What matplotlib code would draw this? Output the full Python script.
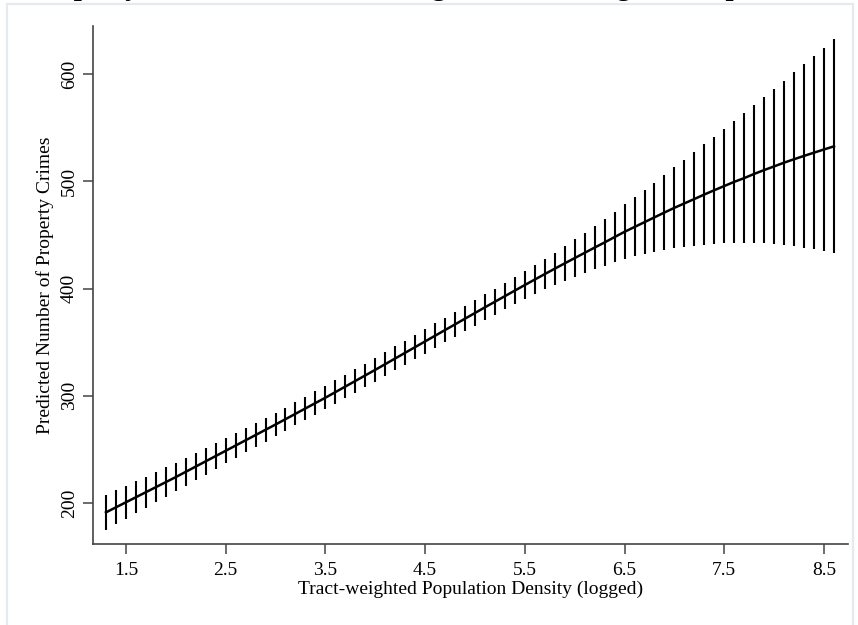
import numpy as np
import matplotlib
matplotlib.use("Agg")
import matplotlib.pyplot as plt
from matplotlib.patches import Rectangle

# log population density grid (0.1 steps)
density = [1.3, 1.4, 1.5, 1.6, 1.7, 1.8, 1.9, 2.0, 2.1, 2.2, 2.3, 2.4, 2.5, 2.6, 2.7,
           2.8, 2.9, 3.0, 3.1, 3.2, 3.3, 3.4, 3.5, 3.6, 3.7, 3.8, 3.9, 4.0, 4.1, 4.2,
           4.3, 4.4, 4.5, 4.6, 4.7, 4.8, 4.9, 5.0, 5.1, 5.2, 5.3, 5.4, 5.5, 5.6, 5.7,
           5.8, 5.9, 6.0, 6.1, 6.2, 6.3, 6.4, 6.5, 6.6, 6.7, 6.8, 6.9, 7.0, 7.1, 7.2,
           7.3, 7.4, 7.5, 7.6, 7.7, 7.8, 7.9, 8.0, 8.1, 8.2, 8.3, 8.4, 8.5, 8.6]

# predicted number of property crimes
predicted = [191.3, 196.0, 200.7, 205.4, 210.1, 214.8, 219.5, 224.2, 229.1, 234.0,
             238.9, 243.8, 248.7, 253.6, 258.5, 263.4, 268.3, 273.2, 278.2, 283.2,
             288.2, 293.2, 298.2, 303.4, 308.6, 313.8, 319.0, 324.2, 329.5, 334.8,
             340.1, 345.4, 350.7, 356.0, 361.3, 366.6, 371.9, 377.2, 382.5, 387.7,
             392.9, 398.1, 403.3, 408.4, 413.5, 418.5, 423.5, 428.4, 433.3, 438.2,
             443.0, 448.0, 452.9, 457.4, 461.9, 466.4, 470.9, 475.3, 479.4, 483.5,
             487.7, 491.7, 495.6, 499.5, 503.0, 506.9, 510.5, 513.9, 517.4, 520.6,
             523.7, 526.7, 529.7, 532.6]

# half width of the 95% confidence interval
ci_half = [16.5, 16.0, 15.5, 15.0, 14.6, 14.2, 13.8, 13.4, 13.0, 12.6,
           12.3, 12.0, 11.7, 11.5, 11.3, 11.1, 11.0, 10.9, 10.8, 10.8,
           10.8, 10.8, 10.9, 10.9, 11.0, 11.0, 11.1, 11.1, 11.2, 11.2,
           11.3, 11.3, 11.4, 11.5, 11.6, 11.7, 11.8, 11.9, 12.0, 12.1,
           12.4, 12.7, 13.1, 13.5, 14.3, 15.1, 16.2, 17.4, 18.8, 20.2,
           21.8, 23.5, 25.5, 27.5, 29.8, 32.2, 34.8, 37.6, 40.4, 43.5,
           46.8, 49.9, 53.2, 56.8, 60.3, 64.2, 68.1, 72.1, 76.5, 81.0,
           85.6, 90.2, 95.0, 99.8]

x_ticks = [1.5, 2.5, 3.5, 4.5, 5.5, 6.5, 7.5, 8.5]
y_ticks = [200, 300, 400, 500, 600]

plt.rcParams['font.family'] = ['Liberation Serif', 'DejaVu Serif']

fig = plt.figure(figsize=(8.58, 6.25), dpi=100)
ax = fig.add_axes([0.1084, 0.1296, 0.8799, 0.8288])

# faint graph-region frame
fig.patches.append(Rectangle((7 / 858, -0.01), 846 / 858, 1 - 4 / 625 + 0.01,
                             transform=fig.transFigure, fill=False,
                             edgecolor='#e4eaee', linewidth=1.6))

# title, cropped above the image: only the descenders show
fig.text(0.5, 1 + 5 / 625, "Property Crimes Across the Range of Tract-weighted Population",
         ha='center', va='baseline', fontsize=21, fontweight='bold')

x = np.array(density)
y = np.array(predicted)
h = np.array(ci_half)

ax.vlines(x, y - h, y + h, color='black', linewidth=1.5)
ax.plot(x, y, color='black', linewidth=1.8)

ax.set_xlim(1.17, 8.74)
ax.set_ylim(161.8, 644.8)
ax.set_xticks(x_ticks)
ax.set_xticklabels([str(t) for t in x_ticks])
ax.set_yticks(y_ticks)
ax.set_yticklabels([str(t) for t in y_ticks], rotation=90, va='center')

for side in ['top', 'right']:
    ax.spines[side].set_visible(False)
for side in ['left', 'bottom']:
    ax.spines[side].set_color('#444444')
    ax.spines[side].set_linewidth(1.2)

ax.tick_params(axis='both', direction='out', length=7, width=1.1, color='#444444',
               labelsize=14, pad=6)
ax.tick_params(axis='y', pad=4)

ax.set_xlabel("Tract-weighted Population Density (logged)", fontsize=14, labelpad=1)
ax.set_ylabel("Predicted Number of Property Crimes", fontsize=14, labelpad=5)

fig.savefig("out.png", dpi=100)
